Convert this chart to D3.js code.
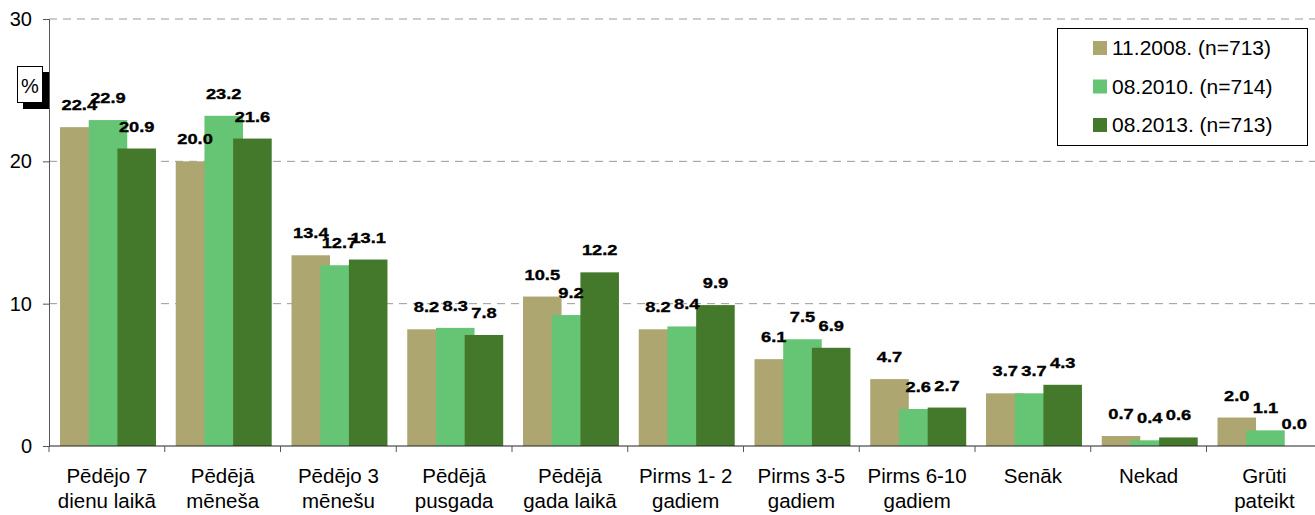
<!DOCTYPE html>
<html>
<head>
<meta charset="utf-8">
<script src="https://cdn.jsdelivr.net/npm/d3@7"></script>
<style>
  body { margin: 0; background: #fff; }
  svg { display: block; font-family: "Liberation Sans", Arial, sans-serif; }
</style>
</head>
<body>
<div id="chart"></div>
<script>
const categories = [
  ['Pēdējo 7', 'dienu laikā'],
  ['Pēdējā', 'mēneša'],
  ['Pēdējo 3', 'mēnešu'],
  ['Pēdējā', 'pusgada'],
  ['Pēdējā', 'gada laikā'],
  ['Pirms 1- 2', 'gadiem'],
  ['Pirms 3-5', 'gadiem'],
  ['Pirms 6-10', 'gadiem'],
  ['Senāk'],
  ['Nekad'],
  ['Grūti', 'pateikt']
];
const seriesNames = ['11.2008. (n=713)', '08.2010. (n=714)', '08.2013. (n=713)'];
const values2008 = [22.4, 20.0, 13.4, 8.2, 10.5, 8.2, 6.1, 4.7, 3.7, 0.7, 2.0];
const values2010 = [22.9, 23.2, 12.7, 8.3, 9.2, 8.4, 7.5, 2.6, 3.7, 0.4, 1.1];
const values2013 = [20.9, 21.6, 13.1, 7.8, 12.2, 9.9, 6.9, 2.7, 4.3, 0.6, 0.0];
const yTicks = [0, 10, 20, 30];
const colors = ['#ada671', '#66c574', '#44782a'];

const W = 1315, H = 515;
const plotLeft = 49, plotTop = 19, plotBottom = 446;
const bandW = 115.75;

const svg = d3.select('#chart').append('svg').attr('width', W).attr('height', H);

const catKeys = categories.map(c => c.join(' '));
const x = d3.scaleBand().domain(catKeys).range([plotLeft, plotLeft + bandW * categories.length]).padding(0);
const y = d3.scaleLinear().domain([0, 30]).range([plotBottom, plotTop]);

// gridlines
svg.append('g').selectAll('line').data(yTicks.filter(d => d > 0)).join('line')
  .attr('x1', plotLeft).attr('x2', W)
  .attr('y1', d => y(d)).attr('y2', d => y(d))
  .attr('stroke', '#999').attr('stroke-dasharray', '8,6');

// y axis
const yAxis = svg.append('g').attr('transform', `translate(${plotLeft},0)`)
  .call(d3.axisLeft(y).tickValues(yTicks).tickSize(6).tickPadding(11));
yAxis.select('.domain').attr('stroke', '#555');
yAxis.selectAll('.tick line').attr('stroke', '#555');
yAxis.selectAll('.tick text').attr('font-size', 20).attr('fill', '#000');

// bars
const series = [values2008, values2010, values2013];
const bw = x.bandwidth();
const barW = bw * 0.333, step = bw * 0.248, start = bw * 0.095;

series.forEach((vals, si) => {
  const g = svg.append('g');
  g.selectAll('rect').data(vals).join('rect')
    .attr('x', (d, i) => x(catKeys[i]) + start + si * step)
    .attr('width', barW)
    .attr('y', d => y(d))
    .attr('height', d => y(0) - y(d))
    .attr('fill', colors[si]);
});

// x axis
const xAxisG = svg.append('g');
xAxisG.append('line').attr('x1', plotLeft).attr('x2', W).attr('y1', plotBottom).attr('y2', plotBottom)
  .attr('stroke', '#222');
xAxisG.selectAll('line.tk').data(d3.range(categories.length + 1)).join('line')
  .attr('class', 'tk')
  .attr('x1', i => plotLeft + i * bw).attr('x2', i => plotLeft + i * bw)
  .attr('y1', plotBottom).attr('y2', plotBottom + 6)
  .attr('stroke', '#555');

// value labels (slightly wide bold digits, as in the original)
series.forEach((vals, si) => {
  svg.append('g').selectAll('text').data(vals).join('text')
    .attr('transform', (d, i) =>
      `translate(${x(catKeys[i]) + start + si * step + barW / 2},${y(d) - 17}) scale(1.18,1)`)
    .attr('text-anchor', 'middle')
    .attr('font-size', 15.5).attr('font-weight', 'bold')
    .attr('stroke', '#000').attr('stroke-width', 0.35)
    .text(d => d.toFixed(1));
});

// category labels
categories.forEach((lines, i) => {
  const t = svg.append('text')
    .attr('x', x(catKeys[i]) + bw / 2)
    .attr('y', 483)
    .attr('text-anchor', 'middle')
    .attr('font-size', 20.5);
  lines.forEach((ln, j) => {
    t.append('tspan').attr('x', x(catKeys[i]) + bw / 2).attr('dy', j === 0 ? 0 : 25).text(ln);
  });
});

// % unit box with shadow
svg.append('rect').attr('x', 23).attr('y', 72).attr('width', 26).attr('height', 37).attr('fill', '#000');
svg.append('rect').attr('x', 17.5).attr('y', 66.5).attr('width', 25).attr('height', 36)
  .attr('fill', '#fff').attr('stroke', '#000');
svg.append('text').attr('x', 30).attr('y', 93).attr('text-anchor', 'middle')
  .attr('font-size', 20).text('%');

// legend
const legend = svg.append('g');
legend.append('rect').attr('x', 1057.5).attr('y', 28.5).attr('width', 250).attr('height', 117)
  .attr('fill', '#fff').attr('stroke', '#000');
seriesNames.forEach((name, i) => {
  const row = legend.append('g').attr('transform', `translate(0, ${i * 38.5})`);
  row.append('rect').attr('x', 1093).attr('y', 41).attr('width', 14).attr('height', 14).attr('fill', colors[i]);
  row.append('text').attr('x', 1112).attr('y', 55).attr('font-size', 21).text(name);
});
</script>
</body>
</html>
